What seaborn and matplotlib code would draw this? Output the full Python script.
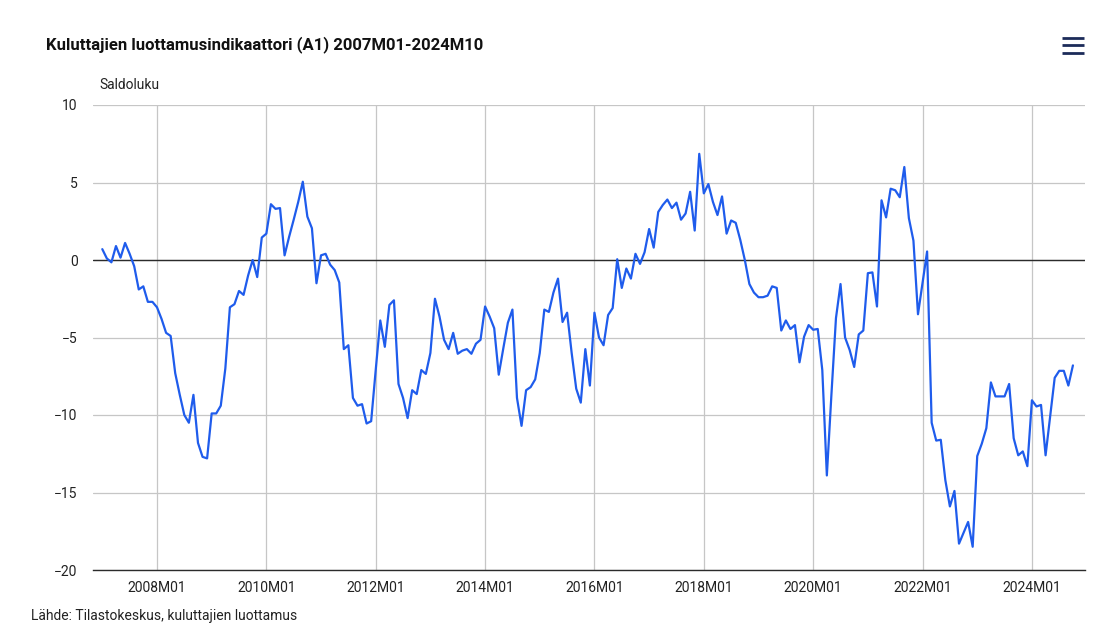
import seaborn as sns
import matplotlib.pyplot as plt
import pandas as pd
from matplotlib.lines import Line2D

# ---- data: consumer confidence (A1), balance figure, 2007M01-2024M10 ----
v2007 = [0.7, 0.1, -0.15, 0.9, 0.15, 1.1, 0.4, -0.4, -1.9, -1.7, -2.7, -2.7]
v2008 = [-3.05, -3.8, -4.7, -4.9, -7.3, -8.7, -10.0, -10.5, -8.7, -11.8, -12.7, -12.8]
v2009 = [-9.9, -9.9, -9.4, -7.0, -3.05, -2.85, -2.0, -2.25, -1.0, 0.0, -1.1, 1.45]
v2010 = [1.7, 3.6, 3.3, 3.35, 0.3, 1.5, 2.6, 3.75, 5.05, 2.8, 2.05, -1.5]
v2011 = [0.3, 0.4, -0.3, -0.65, -1.45, -5.75, -5.5, -8.9, -9.4, -9.3, -10.55, -10.4]
v2012 = [-7.1, -3.9, -5.6, -2.9, -2.6, -8.0, -8.9, -10.2, -8.4, -8.65, -7.1, -7.35]
v2013 = [-6.0, -2.5, -3.65, -5.15, -5.75, -4.7, -6.05, -5.85, -5.75, -6.05, -5.4, -5.15]
v2014 = [-3.0, -3.65, -4.4, -7.4, -5.7, -4.05, -3.2, -8.9, -10.7, -8.4, -8.2, -7.7]
v2015 = [-6.0, -3.2, -3.35, -2.1, -1.2, -4.0, -3.4, -6.0, -8.3, -9.2, -5.75, -8.1]
v2016 = [-3.4, -5.0, -5.5, -3.55, -3.1, 0.05, -1.8, -0.55, -1.2, 0.4, -0.25, 0.5]
v2017 = [2.0, 0.8, 3.1, 3.55, 3.9, 3.35, 3.7, 2.6, 3.0, 4.4, 1.9, 6.85]
v2018 = [4.3, 4.9, 3.75, 2.9, 4.1, 1.7, 2.55, 2.4, 1.3, 0.0, -1.55, -2.1]
v2019 = [-2.4, -2.4, -2.3, -1.7, -1.8, -4.55, -3.9, -4.45, -4.2, -6.6, -4.95, -4.2]
v2020 = [-4.5, -4.45, -7.1, -13.9, -8.7, -3.75, -1.55, -5.0, -5.8, -6.9, -4.8, -4.55]
v2021 = [-0.85, -0.8, -3.0, 3.85, 2.75, 4.6, 4.5, 4.05, 6.0, 2.7, 1.25, -3.5]
v2022 = [-1.45, 0.55, -10.5, -11.65, -11.6, -14.2, -15.9, -14.9, -18.3, -17.6, -16.9, -18.5]
v2023 = [-12.65, -11.85, -10.85, -7.9, -8.8, -8.8, -8.8, -8.0, -11.5, -12.6, -12.35, -13.3]
v2024 = [-9.05, -9.45, -9.35, -12.6, -10.1, -7.6, -7.15, -7.15, -8.1, -6.8]

values = (v2007 + v2008 + v2009 + v2010 + v2011 + v2012 + v2013 + v2014 + v2015
          + v2016 + v2017 + v2018 + v2019 + v2020 + v2021 + v2022 + v2023 + v2024)
months = pd.period_range('2007-01', '2024-10', freq='M')
labels = [f"{p.year}M{p.month:02d}" for p in months]
yticks = [-20, -15, -10, -5, 0, 5, 10]

df = pd.DataFrame({'kk': range(len(values)), 'saldoluku': values, 'label': labels})

sns.set_style('white')
plt.rcParams['font.family'] = ['Roboto', 'DejaVu Sans']

W, H = 1119, 640
fig = plt.figure(figsize=(W / 100, H / 100), dpi=100)
ax = fig.add_axes([93 / W, (H - 570) / H, 992 / W, 465 / H])

sns.lineplot(data=df, x='kk', y='saldoluku', ax=ax, color='#1f5cec', linewidth=1.6)

ax.set_ylim(-20, 10)
ax.set_xlim(-2.04, 215.65)
ax.set_yticks(yticks)
ax.set_yticklabels([str(t).replace('-', '\u2212') for t in yticks])
xt = [i for i, l in enumerate(labels) if l.endswith('M01') and int(l[:4]) % 2 == 0]
ax.set_xticks(xt)
ax.set_xticklabels([labels[i] for i in xt])

ax.grid(True, axis='both', color='#c6c6c6', linewidth=0.9)
ax.set_axisbelow(True)
ax.axhline(0, color='#2b2b2b', linewidth=1.0, zorder=1.5)
for s in ['top', 'left', 'right']:
    ax.spines[s].set_visible(False)
ax.spines['bottom'].set_color('#2b2b2b')
ax.spines['bottom'].set_linewidth(1.0)

ax.tick_params(axis='y', length=0, pad=11, labelsize=10, labelcolor='#222222')
ax.tick_params(axis='x', length=6, width=0.9, color='#c6d0e0', pad=2,
               labelsize=10, labelcolor='#222222')
ax.set_xlabel('')
ax.set_ylabel('')

fig.text(46 / W, 1 - 45 / H, 'Kuluttajien luottamusindikaattori (A1) 2007M01-2024M10',
         fontsize=12, fontweight='bold', color='#111111', va='center', ha='left')
fig.text(99 / W, 1 - 85 / H, 'Saldoluku', fontsize=10, color='#222222',
         va='center', ha='left')
fig.text(31 / W, 1 - 616 / H, 'Lähde: Tilastokeskus, kuluttajien luottamus',
         fontsize=10, color='#222222', va='center', ha='left')

# menu icon in the top right corner
for yy in [37.5, 45, 52.5]:
    fig.add_artist(Line2D([1062 / W, 1084 / W], [1 - yy / H, 1 - yy / H],
                          transform=fig.transFigure, color='#1c2b59', linewidth=2.0,
                          solid_capstyle='butt'))

fig.savefig('out.png', dpi=100)
